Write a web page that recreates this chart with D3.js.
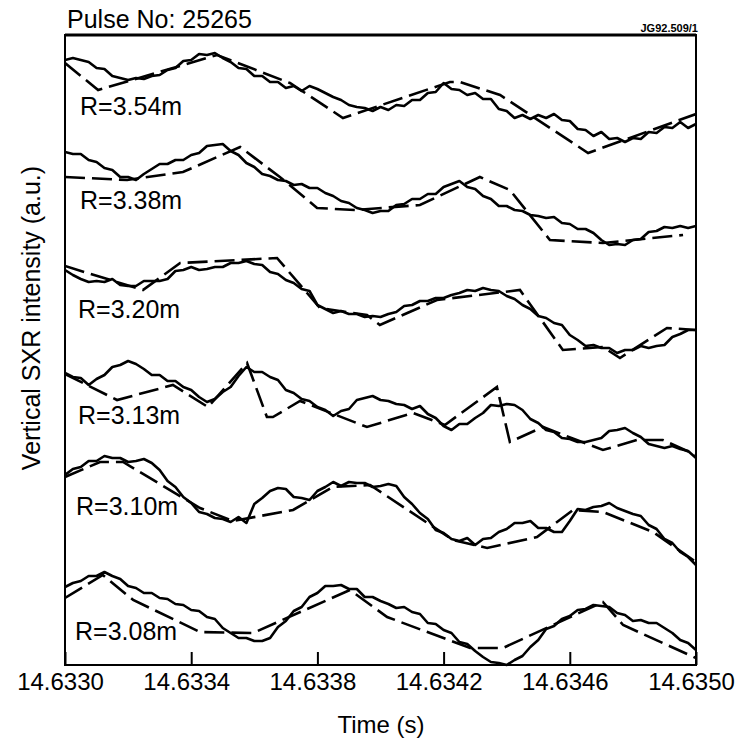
<!DOCTYPE html>
<html>
<head>
<meta charset="utf-8">
<script src="https://cdnjs.cloudflare.com/ajax/libs/d3/7.8.5/d3.min.js"></script>
<style>
  body { margin: 0; background: #fff; }
  text { font-family: "Liberation Sans", Arial, Helvetica, sans-serif; fill: #000; }
</style>
</head>
<body>
<svg id="chart" width="739" height="744"></svg>
<script>
// time base: microseconds after 14.6330 s, solid traces sampled every 25 us
var t0 = 14.6330;
var solidStepUs = 25;
var xTicks = [14.6330, 14.6334, 14.6338, 14.6342, 14.6346, 14.6350];
var channels = ["R=3.54m", "R=3.38m", "R=3.20m", "R=3.13m", "R=3.10m", "R=3.08m"];

// measured (solid) signals, a.u. with channel offsets
var meas354 = [60.5, 60.7, 60.5, 60.3, 59.7, 59.6, 58.9, 58.7, 58.5, 58.7, 58.6, 58.9, 59.0, 59.5, 59.7, 60.4, 60.5, 61.1, 61.0, 61.2,
  60.7, 60.3, 59.7, 59.6, 58.9, 58.9, 58.3, 58.3, 57.7, 57.9, 57.4, 57.9, 57.6, 57.2, 56.8, 56.5, 56.0, 55.8, 55.7, 55.4,
  55.8, 55.5, 56.0, 55.9, 56.5, 56.5, 57.2, 57.3, 58.2, 57.6, 57.5, 57.0, 57.2, 56.6, 56.6, 55.6, 55.4, 54.7, 55.0, 54.6,
  55.0, 54.7, 55.1, 54.5, 54.4, 53.6, 53.5, 52.9, 53.3, 52.6, 52.7, 52.3, 52.7, 52.6, 53.3, 53.2, 53.8, 53.7, 54.3, 53.7, 54.1];
var meas338 = [51.3, 51.1, 51.1, 50.5, 50.3, 49.7, 49.5, 48.8, 48.8, 48.5, 49.1, 49.6, 50.1, 50.1, 50.5, 50.5, 51.0, 51.2, 51.9, 52.0,
  52.1, 51.4, 51.0, 50.2, 49.8, 49.1, 48.9, 48.5, 48.4, 48.0, 48.1, 47.7, 47.7, 47.2, 46.9, 46.4, 46.2, 45.7, 45.5, 45.2,
  45.4, 45.4, 46.0, 46.1, 46.6, 46.6, 47.1, 47.1, 47.8, 48.1, 48.4, 47.8, 47.6, 46.9, 46.6, 45.9, 45.9, 45.5, 45.4, 45.0,
  44.9, 44.7, 44.8, 44.2, 44.1, 43.6, 43.6, 43.2, 42.5, 42.0, 42.1, 42.0, 42.5, 42.6, 43.3, 43.4, 43.8, 43.7, 43.9, 43.7, 43.9];
var meas320 = [39.5, 39.0, 38.6, 38.3, 38.4, 38.3, 38.6, 38.0, 37.9, 37.9, 38.4, 38.4, 38.4, 38.6, 39.4, 39.5, 39.8, 39.5, 39.6, 39.8,
  39.8, 40.2, 40.2, 40.4, 40.1, 40.0, 39.3, 39.1, 38.5, 38.2, 37.6, 37.4, 36.0, 35.6, 35.2, 35.4, 35.1, 35.1, 34.8, 34.9,
  34.8, 35.1, 35.3, 35.9, 36.0, 36.4, 36.4, 36.7, 36.7, 37.0, 37.2, 37.5, 37.4, 37.7, 37.5, 37.4, 36.9, 36.6, 36.0, 35.6,
  34.9, 34.7, 34.2, 34.0, 33.0, 32.5, 31.9, 32.0, 31.7, 31.7, 31.2, 31.5, 31.5, 31.9, 31.7, 31.9, 32.0, 32.8, 33.1, 33.5, 33.5];
var meas313 = [29.2, 28.8, 28.7, 28.0, 28.6, 29.0, 29.8, 30.0, 30.4, 30.1, 29.6, 29.0, 29.0, 28.4, 28.4, 27.8, 27.5, 26.8, 26.3, 26.6,
  27.3, 27.8, 28.9, 29.8, 29.3, 29.3, 28.8, 28.5, 27.5, 27.2, 26.6, 26.4, 25.8, 25.5, 24.9, 25.4, 25.6, 26.5, 26.7, 26.9,
  26.5, 26.4, 26.1, 26.0, 25.6, 25.9, 25.1, 24.7, 23.9, 23.5, 24.1, 24.1, 24.7, 25.2, 26.0, 25.9, 26.1, 26.0, 25.5, 24.6,
  24.2, 23.5, 23.3, 22.7, 22.6, 22.3, 22.3, 22.5, 22.7, 23.4, 23.5, 23.7, 23.2, 22.8, 22.1, 21.9, 21.7, 21.9, 21.6, 21.4, 20.7];
var meas310 = [19.0, 19.6, 19.8, 20.4, 20.4, 20.9, 20.7, 20.7, 20.3, 20.4, 20.6, 20.2, 19.5, 18.4, 17.8, 16.8, 16.2, 15.3, 15.1, 14.7,
  14.6, 14.3, 14.8, 14.2, 16.1, 16.7, 17.4, 17.7, 17.6, 16.8, 16.7, 16.5, 17.4, 17.8, 18.3, 17.9, 18.3, 18.2, 18.2, 17.8,
  17.9, 18.1, 17.9, 16.8, 16.1, 15.2, 14.6, 13.5, 13.2, 12.6, 12.4, 12.7, 12.0, 12.6, 12.7, 13.3, 13.6, 14.2, 14.2, 14.4,
  13.7, 13.7, 13.3, 13.3, 14.4, 15.6, 15.5, 15.8, 15.9, 16.2, 15.7, 15.4, 15.1, 14.9, 14.0, 13.6, 12.6, 12.2, 11.3, 10.8, 10.0];
var meas308 = [7.8, 8.2, 8.4, 8.9, 8.9, 9.3, 8.9, 8.6, 7.9, 7.7, 7.2, 7.2, 6.7, 6.6, 6.1, 6.0, 5.5, 5.4, 4.8, 4.6,
  3.7, 3.2, 2.7, 2.7, 2.4, 2.4, 2.7, 3.8, 4.4, 5.4, 5.8, 6.8, 7.2, 7.9, 7.9, 8.0, 7.6, 7.6, 6.8, 6.8,
  6.4, 6.1, 5.7, 5.8, 5.3, 5.1, 4.2, 4.1, 3.5, 3.2, 2.3, 2.1, 1.4, 0.8, 0.3, 0.2, 0.0, 0.5, 0.9, 1.8,
  2.5, 3.6, 3.9, 4.6, 4.9, 5.5, 5.6, 6.0, 5.9, 5.8, 5.2, 5.0, 4.4, 4.5, 4.2, 4.2, 3.7, 3.2, 2.5, 2.2, 1.5];

// model (dashed) signals: break-point times (us) and values (a.u.)
var modelT354 = [0, 105, 482, 713, 881, 1220, 1252, 1379, 1658, 2000];
var modelV354 = [60.2, 57.5, 61.0, 58.2, 54.7, 58.3, 58.3, 57.0, 51.2, 55.1];
var modelT338 = [0, 197, 374, 555, 681, 799, 919, 1125, 1315, 1410, 1537, 1705, 1959];
var modelV338 = [48.8, 48.5, 49.3, 51.8, 48.8, 45.7, 45.5, 46.0, 48.8, 47.5, 42.5, 42.2, 43.0];
var modelT320 = [0, 247, 365, 672, 808, 957, 998, 1179, 1442, 1578, 1705, 1759, 1908, 2000];
var modelV320 = [39.9, 37.5, 40.2, 40.7, 35.7, 35.0, 34.0, 36.5, 37.5, 31.5, 31.8, 30.7, 33.7, 33.5];
var modelT313 = [0, 165, 342, 453, 577, 640, 659, 745, 957, 1103, 1204, 1369, 1410, 1515, 1705, 1813, 1895, 2000];
var modelV313 = [29.1, 26.5, 28.0, 25.8, 30.2, 24.8, 24.8, 26.4, 23.8, 25.2, 24.0, 27.8, 22.3, 23.8, 21.5, 22.5, 22.5, 21.0];
var modelT310 = [0, 111, 184, 428, 532, 723, 849, 967, 1230, 1338, 1496, 1610, 1705, 1864, 2000];
var modelV310 = [18.8, 20.3, 20.3, 15.7, 14.4, 15.5, 17.8, 18.0, 12.5, 11.7, 12.8, 15.5, 15.3, 13.3, 10.3];
var modelT308 = [0, 120, 216, 428, 596, 903, 1021, 1284, 1388, 1705, 1769, 2000];
var modelV308 = [6.7, 9.0, 6.5, 3.3, 3.2, 7.5, 4.8, 1.7, 1.7, 6.3, 4.0, 0.7];

var measured = [meas354, meas338, meas320, meas313, meas310, meas308];
var modelT = [modelT354, modelT338, modelT320, modelT313, modelT310, modelT308];
var modelV = [modelV354, modelV338, modelV320, modelV313, modelV310, modelV308];

// layout
var plotL = 65, plotR = 696, plotT = 35, plotB = 665;
var labelBaseline = [115, 209, 318, 424, 515, 640];
var labelX = [80, 80, 78, 78, 76, 75];

var svg = d3.select('svg#chart');

var x = d3.scaleLinear().domain([t0, 14.6350]).range([plotL, plotR]);
var y = d3.scaleLinear().domain([0, 63]).range([plotB, plotT]);

function toTime(us){ return t0 + us * 1e-6; }

svg.append('defs').append('clipPath').attr('id', 'plotclip')
  .append('rect').attr('x', plotL).attr('y', plotT - 2)
  .attr('width', plotR - plotL).attr('height', plotB - plotT + 4);

var line = d3.line()
  .x(function(d){ return x(d[0]); })
  .y(function(d){ return y(d[1]); });

var traces = svg.append('g').attr('clip-path', 'url(#plotclip)');

for (var i = 0; i < channels.length; i += 1){
    var solid = measured[i].map(function(v, k){ return [toTime(k * solidStepUs), v]; });
    traces.append('path')
      .attr('d', line(solid))
      .style('fill', 'none').style('stroke', '#000')
      .style('stroke-width', '2.6px').style('stroke-linejoin', 'round');

    var ts = modelT[i], vs = modelV[i];
    var dashed = ts.map(function(t, k){ return [toTime(t), vs[k]]; });
    traces.append('path')
      .attr('d', line(dashed))
      .style('fill', 'none').style('stroke', '#000')
      .style('stroke-width', '2.6px')
      .style('stroke-dasharray', '20 7');
}

// channel labels
svg.selectAll('text.chan').data(channels).enter().append('text')
  .attr('class', 'chan')
  .attr('x', function(d, i){ return labelX[i]; })
  .attr('y', function(d, i){ return labelBaseline[i]; })
  .style('font-size', '25px')
  .text(function(d){ return d; });

// bottom axis, ticks pointing inward
var xAxis = d3.axisBottom(x)
  .tickValues(xTicks)
  .tickFormat(d3.format('.4f'))
  .tickSizeInner(-13)
  .tickSizeOuter(0)
  .tickPadding(8);

var gx = svg.append('g').attr('transform', 'translate(0,' + plotB + ')').call(xAxis);
gx.select('.domain').remove();
gx.selectAll('.tick line').style('stroke', '#000').style('stroke-width', '2px');
gx.selectAll('.tick text')
  .attr('dx', '-5')
  .style('font-size', '24px')
  .style('font-family', '"Liberation Sans", Arial, sans-serif')
  .style('fill', '#000');

// frame
svg.append('rect')
  .attr('x', plotL).attr('y', plotT)
  .attr('width', plotR - plotL).attr('height', plotB - plotT)
  .style('fill', 'none').style('stroke', '#000').style('stroke-width', '2px');
svg.append('line')
  .attr('x1', plotL).attr('x2', plotR).attr('y1', plotT).attr('y2', plotT)
  .style('stroke', '#000').style('stroke-width', '3px');

// titles
svg.append('text').attr('x', 67).attr('y', 28)
  .style('font-size', '25px').text('Pulse No: 25265');

svg.append('text').attr('x', 698).attr('y', 32)
  .attr('text-anchor', 'end')
  .style('font-size', '11px').style('font-weight', 'bold')
  .text('JG92.509/1');

svg.append('text').attr('x', 381).attr('y', 733)
  .attr('text-anchor', 'middle')
  .style('font-size', '24px').text('Time (s)');

svg.append('text')
  .attr('transform', 'translate(40,318) rotate(-90)')
  .attr('text-anchor', 'middle')
  .style('font-size', '25px').text('Vertical SXR intensity (a.u.)');
</script>
</body>
</html>
